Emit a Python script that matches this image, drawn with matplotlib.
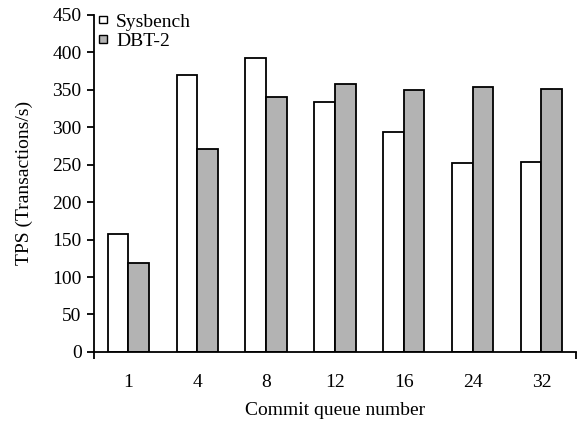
import numpy as np
import matplotlib.pyplot as plt

categories = ['1', '4', '8', '12', '16', '24', '32']
sysbench = [157, 370, 393, 334, 294, 252, 254]
dbt2 = [119, 271, 340, 358, 350, 353, 351]

plt.rcParams['font.family'] = ['Liberation Serif', 'DejaVu Serif']
plt.rcParams['font.size'] = 14

fig = plt.figure(figsize=(5.84, 4.23), dpi=100)
ax = fig.add_axes([0.161, 0.168, 0.825, 0.797])

x = np.arange(len(categories))
w = 0.3
ax.bar(x - w / 2, sysbench, w, color='white', edgecolor='black', linewidth=1.3, label='Sysbench')
ax.bar(x + w / 2, dbt2, w, color='#b3b3b3', edgecolor='black', linewidth=1.3, label='DBT-2')

ax.set_xlim(-0.5, len(categories) - 0.5)
ax.set_ylim(0, 450)
ax.set_yticks(np.arange(0, 451, 50))
ax.set_xticks(x)
ax.set_xticklabels(categories)
ax.set_xticks([-0.5, len(categories) - 0.5], minor=True)
ax.tick_params(axis='x', which='major', length=0, pad=16)
ax.tick_params(axis='x', which='minor', length=5, width=1.3, direction='out')
ax.tick_params(axis='y', length=5, width=1.3, direction='out', pad=4)

for s in ['top', 'right']:
    ax.spines[s].set_visible(False)
for s in ['left', 'bottom']:
    ax.spines[s].set_linewidth(1.3)

ax.set_xlabel('Commit queue number', labelpad=8)
ax.set_ylabel('TPS (Transactions/s)', labelpad=14)

leg = ax.legend(loc='upper left', bbox_to_anchor=(-0.021, 1.05), frameon=False,
                handlelength=0.4, handleheight=0.22, handletextpad=0.45,
                labelspacing=0.12, borderpad=0.3)
for h in leg.legend_handles:
    h.set_linewidth(1.0)

fig.savefig('out.png', dpi=100)
